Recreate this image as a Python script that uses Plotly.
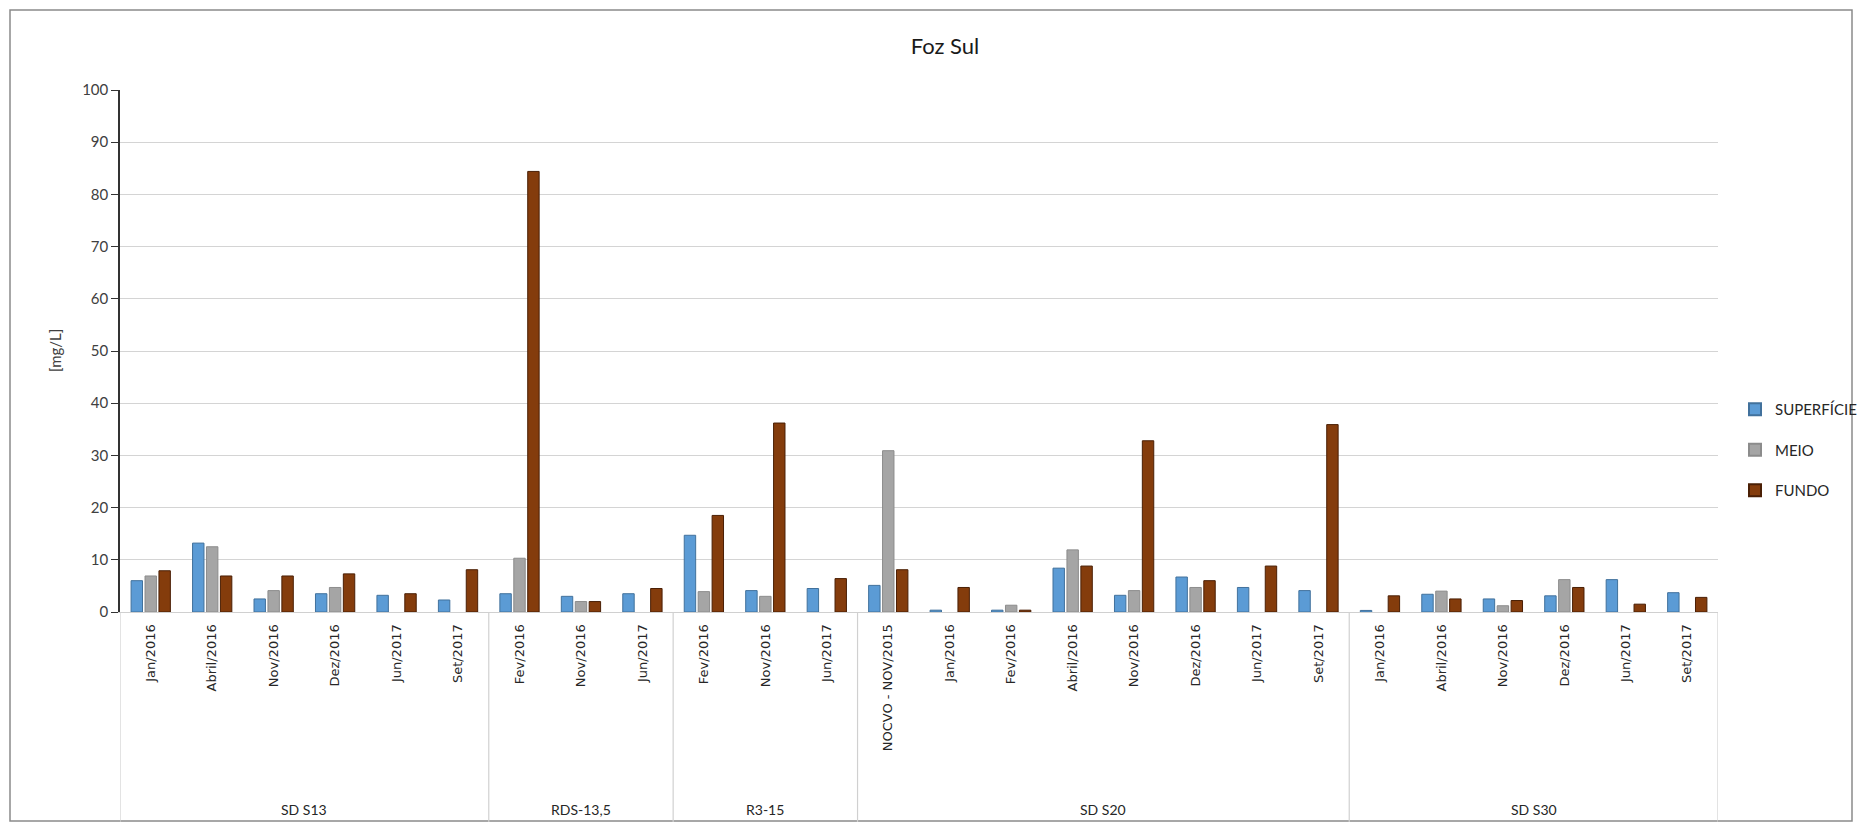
import plotly.graph_objects as go

# Sampling stations and campaign dates
groups = ["SD S13", "RDS-13,5", "R3-15", "SD S20", "SD S30"]
group_sizes = [6, 3, 3, 8, 6]
dates = [
    "Jan/2016", "Abril/2016", "Nov/2016", "Dez/2016", "Jun/2017", "Set/2017",
    "Fev/2016", "Nov/2016", "Jun/2017",
    "Fev/2016", "Nov/2016", "Jun/2017",
    "NOCVO - NOV/2015", "Jan/2016", "Fev/2016", "Abril/2016", "Nov/2016", "Dez/2016", "Jun/2017", "Set/2017",
    "Jan/2016", "Abril/2016", "Nov/2016", "Dez/2016", "Jun/2017", "Set/2017",
]

# Concentrations [mg/L] per depth
superficie = [6.0, 13.2, 2.5, 3.5, 3.2, 2.3, 3.5, 3.0, 3.5, 14.7, 4.1, 4.5, 5.1,
              0.35, 0.35, 8.4, 3.2, 6.7, 4.7, 4.1, 0.3, 3.4, 2.5, 3.1, 6.2, 3.7]
meio = [6.9, 12.5, 4.1, 4.7, None, None, 10.3, 2.0, None, 3.9, 3.0, None, 30.9,
        None, 1.3, 11.9, 4.1, 4.7, None, None, None, 4.0, 1.2, 6.2, None, None]
fundo = [7.9, 6.9, 6.9, 7.3, 3.5, 8.1, 84.4, 2.0, 4.5, 18.5, 36.2, 6.4, 8.1,
         4.7, 0.35, 8.8, 32.8, 6.0, 8.8, 35.9, 3.1, 2.5, 2.2, 4.7, 1.5, 2.8]

series = [
    ("SUPERFÍCIE", superficie, "#5B9BD5", "#41719C"),
    ("MEIO", meio, "#A5A5A5", "#8C8C8C"),
    ("FUNDO", fundo, "#843C0C", "#4A1F05"),
]

W, H = 1858, 827
L, R, T, B = 120, 140, 90, 215
pw, ph = W - L - R, H - T - B

FONT = "Lato, 'Open Sans', sans-serif"
xs = list(range(len(dates)))

fig = go.Figure()
for i, (name, vals, color, edge) in enumerate(series):
    fig.add_trace(go.Bar(
        x=xs, y=vals, name=name, legendgroup=name,
        marker=dict(color=color, line=dict(color=edge, width=1)),
    ))

# group boundaries and centres along the category axis
bounds = [-0.5]
for n in group_sizes:
    bounds.append(bounds[-1] + n)
centres = [(bounds[k] + bounds[k + 1]) / 2 for k in range(len(groups))]

def py(px_y):
    """pixel row (from top of page) -> paper y"""
    return (H - B - px_y) / ph

def px(px_x):
    return (px_x - L) / pw

shapes = []
for b in bounds:
    shapes.append(dict(type="line", xref="x", yref="paper", x0=b, x1=b,
                       y0=0, y1=py(822), line=dict(color="#D0D0D0", width=1.2)))
# outer chart frame
shapes.append(dict(type="rect", xref="paper", yref="paper",
                   x0=px(10), x1=px(1852), y0=py(821), y1=py(10),
                   line=dict(color="#8A8A8A", width=1.5), fillcolor="rgba(0,0,0,0)",
                   layer="below"))

annotations = []
for g, c in zip(groups, centres):
    annotations.append(dict(x=c, xref="x", y=py(809), yref="paper", text=g,
                            showarrow=False, font=dict(family=FONT, size=14, color="#262626"),
                            xanchor="center", yanchor="middle"))
annotations.append(dict(x=px(55), xref="paper", y=0.5, yref="paper", text="[mg/L]",
                        textangle=-90, showarrow=False,
                        font=dict(family=FONT, size=15, color="#404040"),
                        xanchor="center", yanchor="middle"))

fig.update_layout(
    width=W, height=H,
    margin=dict(l=L, r=R, t=T, b=B, autoexpand=False),
    paper_bgcolor="white", plot_bgcolor="white",
    title=dict(text="Foz Sul", x=945 / W, xanchor="center", y=1 - 46 / H, yanchor="middle",
               font=dict(family=FONT, size=22, color="#1a1a1a")),
    barmode="group", bargap=0.32, bargroupgap=0.18,
    showlegend=True,
    legend=dict(x=px(1735), xanchor="left", y=py(450), yanchor="middle",
                traceorder="grouped", tracegroupgap=18,
                font=dict(family=FONT, size=15, color="#262626"),
                itemsizing="constant", bgcolor="rgba(0,0,0,0)"),
    shapes=shapes, annotations=annotations,
    xaxis=dict(range=[-0.5, len(dates) - 0.5], tickmode="array", tickvals=xs, ticktext=dates,
               tickangle=-90, ticks="", ticklabelstandoff=6, automargin=False,
               tickfont=dict(family="'DejaVu Sans', sans-serif", size=13, color="#262626"),
               showgrid=False, zeroline=False, showline=True, linecolor="#D0D0D0", linewidth=1.2,
               fixedrange=True),
    yaxis=dict(range=[0, 100], dtick=10, showgrid=True, gridcolor="#D4D4D4", gridwidth=1.2,
               zeroline=False, showline=True, linecolor="#333333", linewidth=1.5,
               ticks="outside", ticklen=7, tickcolor="#333333", tickwidth=1.2, automargin=False,
               tickfont=dict(family=FONT, size=15, color="#404040"),
               fixedrange=True),
)

fig.write_html("out.html")
